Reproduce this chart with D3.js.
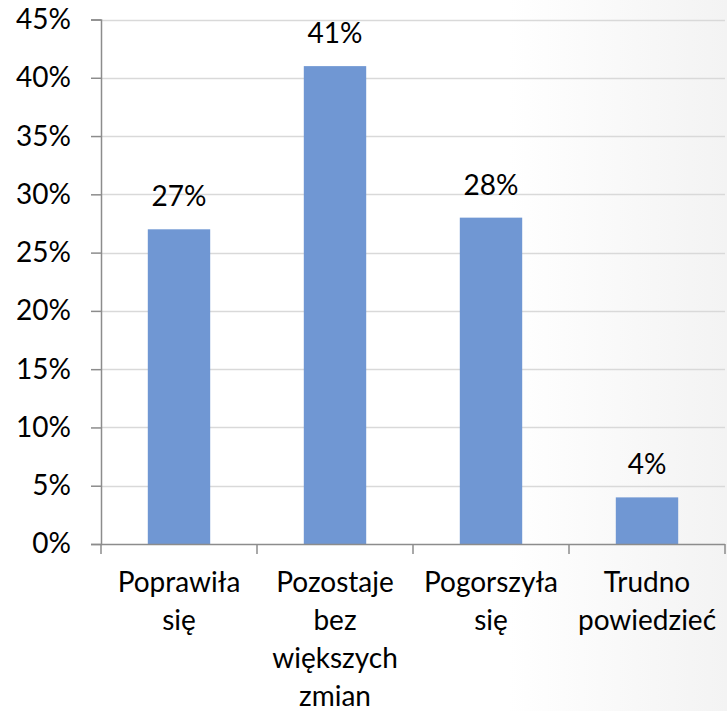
<!DOCTYPE html>
<html><head><meta charset="utf-8">
<script src="https://cdn.jsdelivr.net/npm/d3@7"></script>
<style>html,body{margin:0;padding:0;background:#fff;}svg{display:block;}</style>
</head><body>
<script>
const categories = [["Poprawiła","się"],["Pozostaje","bez","większych","zmian"],["Pogorszyła","się"],["Trudno","powiedzieć"]];
const values = [27, 41, 28, 4];
const yTicks = [0,5,10,15,20,25,30,35,40,45];

const W = 727, H = 711;
const svg = d3.select("body").append("svg").attr("width", W).attr("height", H);
const defs = svg.append("defs");
const g = defs.append("linearGradient").attr("id","bg").attr("x1","0").attr("x2","1").attr("y1","0").attr("y2","0");
g.append("stop").attr("offset","0.7").attr("stop-color","#ffffff");
g.append("stop").attr("offset","1").attr("stop-color","#f3f3f3");
svg.append("rect").attr("width",W).attr("height",H).attr("fill","url(#bg)");

const font = "Lato, 'Open Sans', sans-serif";
const fs = 28;
const x = d3.scaleBand().domain(d3.range(values.length)).range([101, 725]).paddingInner(0.6).paddingOuter(0.3);
const y = d3.scaleLinear().domain([0,45]).range([544, 19.5]);

// gridlines
svg.append("g").selectAll("line").data(yTicks.filter(t=>t>0)).join("line")
  .attr("x1",101).attr("x2",725).attr("y1",d=>Math.round(y(d))+0.5).attr("y2",d=>Math.round(y(d))+0.5)
  .attr("stroke","#d9d9d9").attr("stroke-width",1.5);

// bars
svg.append("g").selectAll("rect").data(values).join("rect")
  .attr("x",(d,i)=>x(i)).attr("width",x.bandwidth())
  .attr("y",d=>y(d)).attr("height",d=>y(0)-y(d))
  .attr("fill","#7097d3");

// value labels
svg.append("g").selectAll("text").data(values).join("text")
  .attr("x",(d,i)=>x(i)+x.bandwidth()/2).attr("y",d=>y(d)-23)
  .attr("text-anchor","middle").attr("font-family",font).attr("font-size",fs).attr("fill","#000")
  .text(d=>d+"%");

// y axis
const yAxis = d3.axisLeft(y).tickValues(yTicks).tickFormat(d=>d+"%").tickSize(10).tickPadding(20);
const ya = svg.append("g").attr("transform","translate(101,0)").call(yAxis);
ya.select(".domain").attr("stroke","#8c8c8c").attr("stroke-width",1.5);
ya.selectAll(".tick line").attr("stroke","#8c8c8c").attr("stroke-width",1.5);
ya.selectAll("text").attr("font-family",font).attr("font-size",fs).attr("fill","#000");

// x axis
const xEdge = d3.scaleLinear().domain([0,values.length]).range([101,725]);
svg.append("line").attr("x1",101).attr("x2",725).attr("y1",544.5).attr("y2",544.5).attr("stroke","#8c8c8c").attr("stroke-width",1.5);
svg.append("g").selectAll("line").data(d3.range(values.length+1)).join("line")
  .attr("x1",d=>xEdge(d)).attr("x2",d=>xEdge(d)).attr("y1",544).attr("y2",554)
  .attr("stroke","#8c8c8c").attr("stroke-width",1.5);

// category labels
const cl = svg.append("g").selectAll("text").data(categories).join("text")
  .attr("x",(d,i)=>x(i)+x.bandwidth()/2).attr("y",592)
  .attr("text-anchor","middle").attr("font-family",font).attr("font-size",fs).attr("fill","#000");
cl.each(function(d){
  const t = d3.select(this);
  d.forEach((line,j)=>t.append("tspan").attr("x",t.attr("x")).attr("dy", j===0?0:38).text(line));
});
</script>
</body></html>
